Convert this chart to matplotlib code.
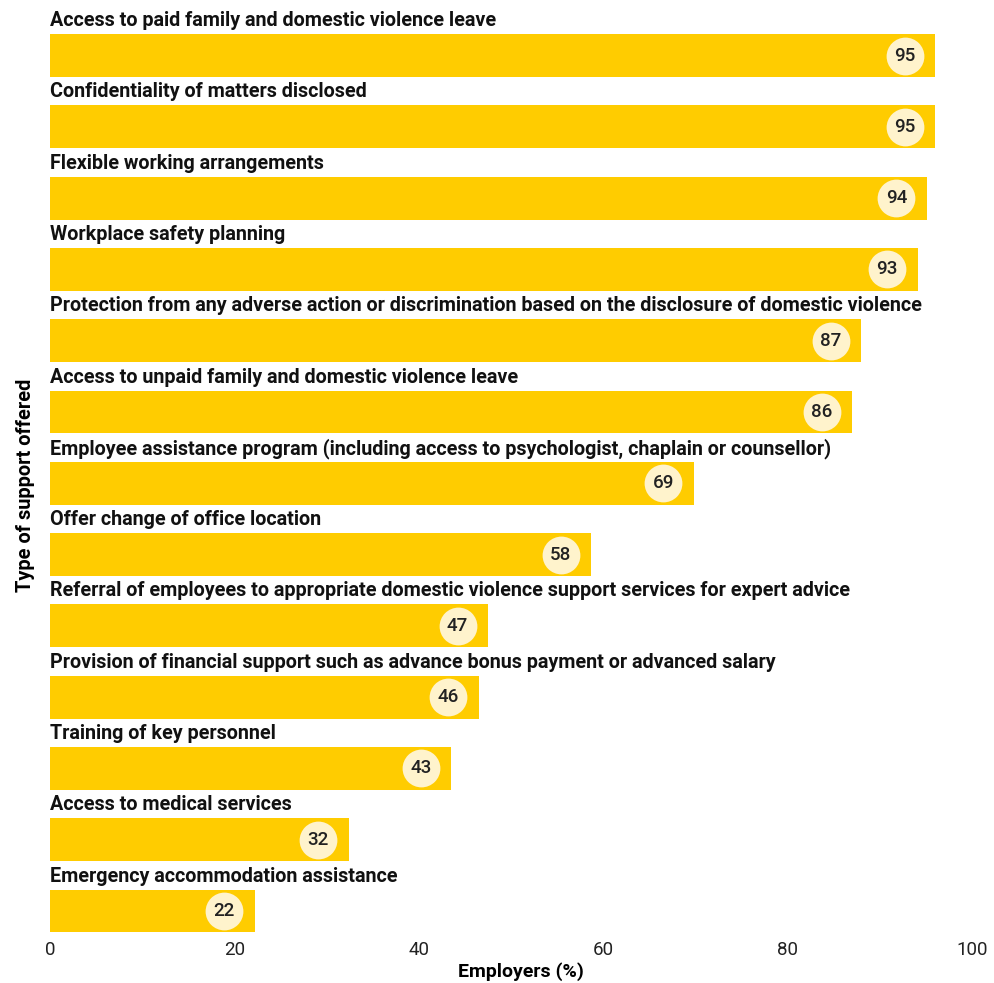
import matplotlib
matplotlib.use("Agg")
import matplotlib.pyplot as plt

categories = [
    "Access to paid family and domestic violence leave",
    "Confidentiality of matters disclosed",
    "Flexible working arrangements",
    "Workplace safety planning",
    "Protection from any adverse action or discrimination based on the disclosure of domestic violence",
    "Access to unpaid family and domestic violence leave",
    "Employee assistance program (including access to psychologist, chaplain or counsellor)",
    "Offer change of office location",
    "Referral of employees to appropriate domestic violence support services for expert advice",
    "Provision of financial support such as advance bonus payment or advanced salary",
    "Training of key personnel",
    "Access to medical services",
    "Emergency accommodation assistance",
]
values = [96.0, 96.0, 95.1, 94.1, 88.0, 87.0, 69.8, 58.7, 47.5, 46.5, 43.5, 32.4, 22.2]
value_labels = ["95", "95", "94", "93", "87", "86", "69", "58", "47", "46", "43", "32", "22"]
xticks = [0, 20, 40, 60, 80, 100]

plt.rcParams['font.family'] = ['Roboto', 'DejaVu Sans']

fig = plt.figure(figsize=(9.95, 9.83), dpi=100)
ax = fig.add_axes([0.0503, 0.05, 0.9266, 0.9457])

pos = list(range(len(categories)))
ax.barh(pos, values, height=0.6, color="#FFCC00", zorder=2)
for i, (c, v, lab) in enumerate(zip(categories, values, value_labels)):
    ax.text(0, i - 0.49, c, fontsize=14.2, fontweight='bold', ha='left', va='center', color='#111111')
    ax.scatter([v - 3.3], [i], s=740, color="#FFF3CC", zorder=3, linewidths=0)
    ax.text(v - 3.3, i, lab, fontsize=13.5, ha='center', va='center', color='#222222', zorder=4, fontweight='medium')

ax.set_xlim(0, 100)
ax.set_ylim(12.32, -0.72)
ax.set_xticks(xticks)
ax.set_xticklabels([str(t) for t in xticks], fontsize=13.5, color='#222222')
ax.set_yticks([])
ax.tick_params(axis='x', length=0, pad=5)
for s in ax.spines.values():
    s.set_visible(False)
ax.set_xlabel("Employers (%)", fontsize=14, fontweight='bold')
ax.set_ylabel("Type of support offered", fontsize=14.4, fontweight='bold')
ax.xaxis.set_label_coords(0.511, -0.031)
ax.yaxis.set_label_coords(-0.016, 0.483)

fig.savefig("out.png", dpi=100)
